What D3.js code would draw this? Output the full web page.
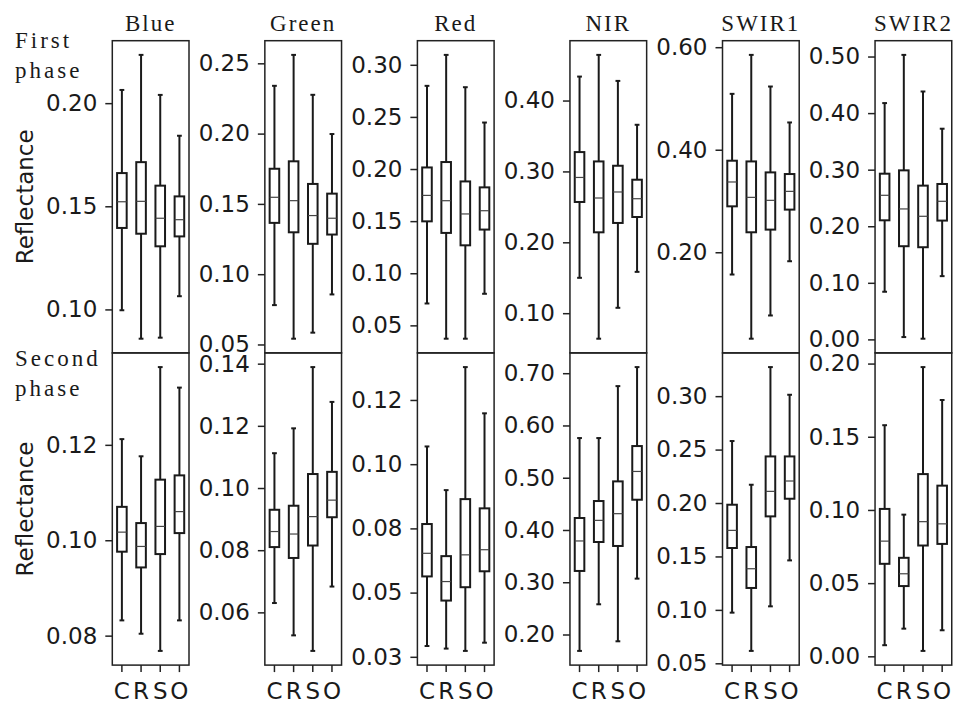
<!DOCTYPE html>
<html>
<head>
<meta charset="utf-8">
<script src="https://cdn.jsdelivr.net/npm/d3@7"></script>
<style>
  body { margin: 0; background: #fff; }
  svg text { fill: #1a1a1a; }
  .sans { font-family: "DejaVu Sans", sans-serif; font-size: 23px; }
  .serif { font-family: "Liberation Serif", serif; font-size: 23px; }
</style>
</head>
<body>
<svg id="chart" width="957" height="703"></svg>
<script>
// bands across the top, groups along the bottom
const bands = ['Blue', 'Green', 'Red', 'NIR', 'SWIR1', 'SWIR2'];
const groups = ['C', 'R', 'S', 'O'];
const phases = [['First', 'phase'], ['Second', 'phase']];

// [whisker low, Q1, median, Q3, whisker high] for C, R, S, O in each band
const firstPhase = [
  [[0.0996, 0.1395, 0.1522, 0.1661, 0.2064], [0.0858, 0.1367, 0.1524, 0.1714, 0.2234],
   [0.0863, 0.1306, 0.1442, 0.1600, 0.2040], [0.1064, 0.1354, 0.1435, 0.1548, 0.1842]],
  [[0.0780, 0.1365, 0.1547, 0.1750, 0.2340], [0.0541, 0.1298, 0.1523, 0.1803, 0.2560],
   [0.0584, 0.1216, 0.1417, 0.1642, 0.2276], [0.0856, 0.1282, 0.1398, 0.1573, 0.1997]],
  [[0.0710, 0.1498, 0.1747, 0.2015, 0.2798], [0.0372, 0.1387, 0.1696, 0.2067, 0.3095],
   [0.0372, 0.1268, 0.1569, 0.1881, 0.2785], [0.0803, 0.1419, 0.1600, 0.1824, 0.2446]],
  [[0.1499, 0.2569, 0.2915, 0.3273, 0.4338], [0.0640, 0.2141, 0.2625, 0.3141, 0.4644],
   [0.1076, 0.2273, 0.2710, 0.3080, 0.4277], [0.1583, 0.2357, 0.2615, 0.2883, 0.3658]],
  [[0.1566, 0.2896, 0.3371, 0.3786, 0.5090], [0.0314, 0.2390, 0.3071, 0.3772, 0.5850],
   [0.0767, 0.2442, 0.3013, 0.3558, 0.5233], [0.1825, 0.2832, 0.3188, 0.3526, 0.4532]],
  [[0.0842, 0.2105, 0.2547, 0.2929, 0.4177], [0.0041, 0.1647, 0.2306, 0.2988, 0.5029],
   [0.0012, 0.1629, 0.2176, 0.2718, 0.4382], [0.1118, 0.2100, 0.2441, 0.2747, 0.3724]]
];

const secondPhase = [
  [[0.0832, 0.0976, 0.1017, 0.1070, 0.1212], [0.0804, 0.0943, 0.0987, 0.1036, 0.1176],
   [0.0768, 0.0971, 0.1029, 0.1127, 0.1363], [0.0832, 0.1015, 0.1060, 0.1136, 0.1320]],
  [[0.0630, 0.0810, 0.0860, 0.0930, 0.1112], [0.0526, 0.0775, 0.0852, 0.0943, 0.1192],
   [0.0476, 0.0815, 0.0908, 0.1045, 0.1389], [0.0683, 0.0906, 0.0961, 0.1052, 0.1277]],
  [[0.0292, 0.0563, 0.0653, 0.0767, 0.1069], [0.0282, 0.0469, 0.0543, 0.0642, 0.0899],
   [0.0273, 0.0521, 0.0647, 0.0864, 0.1378], [0.0305, 0.0583, 0.0667, 0.0828, 0.1198]],
  [[0.1686, 0.3216, 0.3790, 0.4229, 0.5759], [0.2578, 0.3770, 0.4184, 0.4554, 0.5759],
   [0.1870, 0.3694, 0.4312, 0.4930, 0.6753], [0.3069, 0.4579, 0.5120, 0.5606, 0.7117]],
  [[0.0974, 0.1579, 0.1744, 0.1984, 0.2580], [0.0616, 0.1205, 0.1385, 0.1588, 0.2171],
   [0.1033, 0.1875, 0.2109, 0.2436, 0.3272], [0.1463, 0.2040, 0.2206, 0.2436, 0.3013]],
  [[0.0076, 0.0632, 0.0787, 0.1007, 0.1579], [0.0189, 0.0480, 0.0564, 0.0673, 0.0968],
   [0.0037, 0.0757, 0.0920, 0.1245, 0.1976], [0.0178, 0.0768, 0.0905, 0.1166, 0.1751]]
];

// y tick values for each band, first and second phase
const firstTicks = [
  [0.10, 0.15, 0.20],
  [0.05, 0.10, 0.15, 0.20, 0.25],
  [0.05, 0.10, 0.15, 0.20, 0.25, 0.30],
  [0.10, 0.20, 0.30, 0.40],
  [0.20, 0.40, 0.60],
  [0.00, 0.10, 0.20, 0.30, 0.40, 0.50]
];
const secondTicks = [
  [0.08, 0.10, 0.12],
  [0.06, 0.08, 0.10, 0.12, 0.14],
  [0.025, 0.05, 0.075, 0.10, 0.125],
  [0.20, 0.30, 0.40, 0.50, 0.60, 0.70],
  [0.05, 0.10, 0.15, 0.20, 0.25, 0.30],
  [0.00, 0.05, 0.10, 0.15, 0.20]
];
// the red second-phase axis prints rounded labels
const redSecondLabels = ['0.03', '0.05', '0.08', '0.10', '0.12'];

// layout
const panelLeft = 112.3;
const panelStep = 152.55;
const panelWidth = 76.7;
const panelTop = 40.7;
const panelHeight = 312.2;

const svg = d3.select('#chart');
const fmt = d3.format('.2f');

const xScale = d3.scaleBand()
  .domain(groups)
  .range([0, panelWidth])
  .padding(0);
const bw = xScale.bandwidth();
const boxW = bw * 0.5;
const capW = bw * 0.25;

const drawPanel = (row, i) => {
  const boxes = row === 0 ? firstPhase[i] : secondPhase[i];
  const ticks = row === 0 ? firstTicks[i] : secondTicks[i];

  const g = svg.append('g')
    .attr('transform', `translate(${panelLeft + i * panelStep}, ${panelTop + row * panelHeight})`);

  //5% padding around the whiskers, like matplotlib autoscale
  const ext = d3.extent(boxes.flat());
  const pad = (ext[1] - ext[0]) * 0.05;
  const yScale = d3.scaleLinear()
    .domain([ext[0] - pad, ext[1] + pad])
    .range([panelHeight, 0]);

  const yAxis = d3.axisLeft(yScale)
    .tickValues(ticks)
    .tickSize(7)
    .tickPadding(8)
    .tickFormat((d, k) => (row === 1 && i === 2) ? redSecondLabels[k] : fmt(d));

  const ya = g.append('g').call(yAxis);
  ya.select('.domain').remove();
  ya.selectAll('.tick line').attr('stroke', '#222').attr('stroke-width', 1.5);
  ya.selectAll('.tick text').attr('font-size', 23).attr('font-family', '"DejaVu Sans", sans-serif');

  if (row === 1) {
    const xa = g.append('g')
      .attr('transform', `translate(0, ${panelHeight})`)
      .call(d3.axisBottom(xScale).tickSize(7).tickPadding(11));
    xa.select('.domain').remove();
    xa.selectAll('.tick line').attr('stroke', '#222').attr('stroke-width', 1.5);
    xa.selectAll('.tick text').attr('font-size', 23).attr('font-family', '"DejaVu Sans", sans-serif');
  }

  g.append('rect')
    .attr('width', panelWidth)
    .attr('height', panelHeight)
    .attr('fill', 'none')
    .attr('stroke', '#222')
    .attr('stroke-width', 1.5);

  const box = g.selectAll('.box')
    .data(boxes)
    .enter()
    .append('g')
      .attr('class', 'box')
      .attr('transform', (d, k) => `translate(${xScale(groups[k]) + bw / 2}, 0)`);

  //whiskers
  box.append('line')
    .attr('y1', d => yScale(d[0])).attr('y2', d => yScale(d[1]))
    .attr('stroke', '#1a1a1a').attr('stroke-width', 2);
  box.append('line')
    .attr('y1', d => yScale(d[3])).attr('y2', d => yScale(d[4]))
    .attr('stroke', '#1a1a1a').attr('stroke-width', 2);
  //caps
  [0, 4].forEach(j => {
    box.append('line')
      .attr('x1', -capW / 2).attr('x2', capW / 2)
      .attr('y1', d => yScale(d[j])).attr('y2', d => yScale(d[j]))
      .attr('stroke', '#1a1a1a').attr('stroke-width', 2);
  });
  //box
  box.append('rect')
    .attr('x', -boxW / 2)
    .attr('width', boxW)
    .attr('y', d => yScale(d[3]))
    .attr('height', d => yScale(d[1]) - yScale(d[3]))
    .attr('fill', '#fff')
    .attr('stroke', '#1a1a1a')
    .attr('stroke-width', 2);
  //median
  box.append('line')
    .attr('x1', -boxW / 2).attr('x2', boxW / 2)
    .attr('y1', d => yScale(d[2])).attr('y2', d => yScale(d[2]))
    .attr('stroke', '#444').attr('stroke-width', 1.2);
};

[0, 1].forEach(row => bands.forEach((b, i) => drawPanel(row, i)));

//band titles
svg.selectAll('.bandTitle')
  .data(bands)
  .enter()
  .append('text')
    .attr('class', 'serif bandTitle')
    .attr('x', (d, i) => panelLeft + i * panelStep + panelWidth / 2)
    .attr('y', 31)
    .attr('text-anchor', 'middle')
    .style('letter-spacing', '2px')
    .text(d => d);

//phase labels
phases.forEach((p, r) => {
  const t = svg.append('text')
    .attr('class', 'serif')
    .style('letter-spacing', '3px');
  t.append('tspan').attr('x', 15).attr('y', r === 0 ? 48 : 366).text(p[0]);
  t.append('tspan').attr('x', 15).attr('y', r === 0 ? 78 : 396).text(p[1]);

  svg.append('text')
    .attr('class', 'sans')
    .attr('transform', `translate(33, ${panelTop + r * panelHeight + panelHeight / 2}) rotate(-90)`)
    .attr('text-anchor', 'middle')
    .text('Reflectance');
});
</script>
</body>
</html>
